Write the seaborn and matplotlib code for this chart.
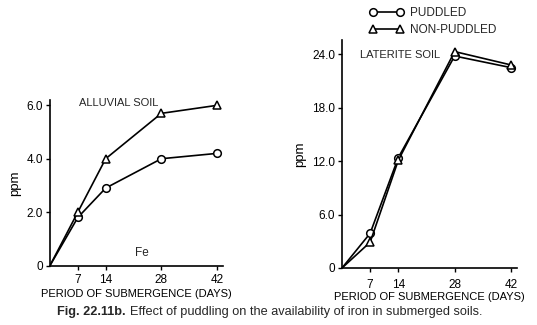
import matplotlib
matplotlib.use("Agg")
import matplotlib.pyplot as plt
import seaborn as sns
import pandas as pd
from matplotlib.lines import Line2D

sns.set_theme(style="white")
plt.rcParams['font.family'] = ['Liberation Sans', 'DejaVu Sans']

days = [0, 7, 14, 28, 42]
alluvial_puddled = [0, 1.8, 2.9, 4.0, 4.2]
alluvial_nonpuddled = [0, 2.0, 4.0, 5.7, 6.0]
laterite_puddled = [0, 3.9, 12.4, 23.8, 22.5]
laterite_nonpuddled = [0, 2.9, 12.1, 24.3, 22.8]
x_ticks = [7, 14, 28, 42]
alluvial_yticks = [0, 2.0, 4.0, 6.0]
alluvial_ylabels = ["0", "2.0", "4.0", "6.0"]
laterite_yticks = [0, 6.0, 12.0, 18.0, 24.0]
laterite_ylabels = ["0", "6.0", "12.0", "18.0", "24.0"]
series_names = ["PUDDLED", "NON-PUDDLED"]
xlabel = "PERIOD OF SUBMERGENCE (DAYS)"

W, H = 537, 325
fig = plt.figure(figsize=(W / 100, H / 100), dpi=100)
fig.patch.set_facecolor("white")

def px_axes(x0, y0_top, x1, y1_bottom):
    return fig.add_axes([x0 / W, 1 - y1_bottom / H, (x1 - x0) / W, (y1_bottom - y0_top) / H])

ax1 = px_axes(50, 100, 223, 265.5)
ax2 = px_axes(342, 40, 517, 268)

fs = 8.5
mk = dict(color="black", linewidth=1.2, markersize=5.5, markerfacecolor="white",
          markeredgecolor="black", markeredgewidth=1.1)

def draw(ax, p, n, yticks, ylabels, ylim, xpad, lpad):
    dfp = pd.DataFrame({"day": days, "v": p})
    dfn = pd.DataFrame({"day": days, "v": n})
    sns.lineplot(data=dfp, x="day", y="v", ax=ax, marker="o", **mk)
    sns.lineplot(data=dfn, x="day", y="v", ax=ax, marker="^", **mk)
    for ln in ax.lines:
        ln.set_markevery([1, 2, 3, 4])
    ax.set_xlim(0, 43.5)
    ax.set_ylim(0, ylim)
    ax.set_xticks(x_ticks)
    ax.set_xticklabels([str(t) for t in x_ticks], fontsize=fs)
    ax.set_yticks(yticks)
    ax.set_yticklabels(ylabels, fontsize=fs)
    ax.tick_params(axis="both", direction="out", length=3, width=1.0,
                   left=True, bottom=True, colors="black")
    ax.tick_params(axis="x", pad=xpad)
    ax.tick_params(axis="y", pad=2)
    for s in ["top", "right"]:
        ax.spines[s].set_visible(False)
    for s in ["left", "bottom"]:
        ax.spines[s].set_color("black")
        ax.spines[s].set_linewidth(1.2)
    ax.set_xlabel(xlabel, fontsize=8.0, labelpad=lpad, color="black")
    ax.set_ylabel("ppm", fontsize=9.5, labelpad=4, color="black")
    ax.set_facecolor("white")

draw(ax1, alluvial_puddled, alluvial_nonpuddled, alluvial_yticks, alluvial_ylabels, 6.2, 3, 2.5)
draw(ax2, laterite_puddled, laterite_nonpuddled, laterite_yticks, laterite_ylabels, 25.6, 5, 1)

fig.text(79 / W, 1 - 103 / H, "ALLUVIAL SOIL", fontsize=8.0, va="center")
fig.text(135 / W, 1 - 252.5 / H, "Fe", fontsize=8.5, va="center")
fig.text(360 / W, 1 - 54.5 / H, "LATERITE SOIL", fontsize=8.0, va="center")

handles = [
    Line2D([], [], marker="o", **mk),
    Line2D([], [], marker="^", **mk),
]
fig.legend(handles, series_names, numpoints=2, frameon=False, loc="upper left",
           bbox_to_anchor=(369 / W, 1 - 7 / H), fontsize=8.5, handlelength=2.9,
           handletextpad=0.6, labelspacing=0.45, borderaxespad=0, borderpad=0)

cap = fig.text(57 / W, 1 - 312.5 / H, "Fig. 22.11b.", fontsize=9.2, fontweight="bold", va="center")
fig.canvas.draw()
bb = cap.get_window_extent()
fig.text((bb.x1 + 4) / W, 1 - 312.5 / H,
         "Effect of puddling on the availability of iron in submerged soils.",
         fontsize=9.2, va="center")

fig.savefig("out.png", dpi=100, facecolor="white")
